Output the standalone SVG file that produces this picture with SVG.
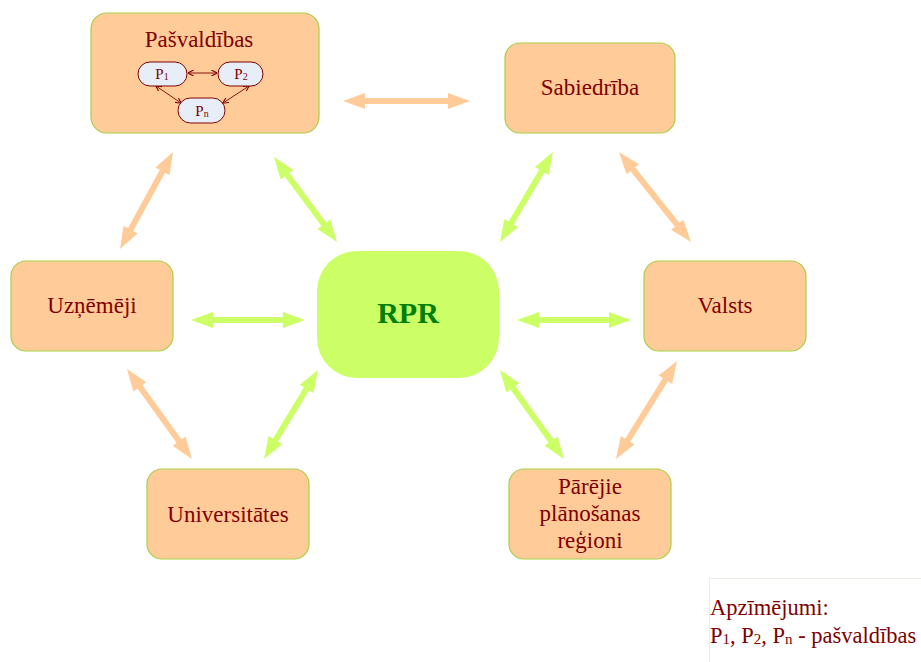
<svg xmlns="http://www.w3.org/2000/svg" width="921" height="662" viewBox="0 0 921 662">
  <style>
    .node { fill: #FFCC99; stroke: #A8CF45; stroke-width: 1.2; }
    .hub { fill: #CCFF66; stroke: none; }
    .lbl { font-family: "Liberation Serif", "Times New Roman", serif; font-size: 23px; fill: #800000; text-anchor: middle; }
    .hubtxt { font-family: "Liberation Serif", "Times New Roman", serif; font-size: 30px; font-weight: bold; fill: #008000; text-anchor: middle; }
    .pill { fill: #E8EEF8; stroke: #800000; stroke-width: 1; }
    .ptxt { font-family: "Liberation Serif", "Times New Roman", serif; font-size: 15px; fill: #800000; text-anchor: middle; }
    .plink { stroke: #800000; stroke-width: 0.9; fill: none; marker-start: url(#tip); marker-end: url(#tip); }
    .orange { fill: #FFCC99; }
    .green { fill: #CCFF66; }
    .legend { font-family: "Liberation Serif", "Times New Roman", serif; font-size: 22.5px; fill: #800000; }
  </style>
  <defs>
    <marker id="tip" viewBox="0 0 8 8" refX="7.5" refY="4" markerWidth="6" markerHeight="6" markerUnits="userSpaceOnUse" orient="auto-start-reverse">
      <path d="M0,0 L8,4 L0,8" fill="none" stroke="#800000" stroke-width="1.4"/>
    </marker>
  </defs>

  <rect width="921" height="662" fill="#FFFFFF"/>

  <!-- legend frame -->
  <rect x="709.5" y="578.5" width="230" height="100" fill="none" stroke="#EDEDE4" stroke-width="1"/>

  <!-- connectors: double-headed block arrows, drawn from (0,0) to (L,0) then placed -->
  <g id="connectors">
    <path class="orange" transform="translate(343 101)" d="M0,0 L22,-8 L22,-3 L105,-3 L105,-8 L127,0 L105,8 L105,3 L22,3 L22,8 Z"/>
    <path class="green" transform="translate(191 320)" d="M0,0 L22,-8 L22,-3 L92,-3 L92,-8 L114,0 L92,8 L92,3 L22,3 L22,8 Z"/>
    <path class="green" transform="translate(517 320)" d="M0,0 L22,-8 L22,-3 L92,-3 L92,-8 L114,0 L92,8 L92,3 L22,3 L22,8 Z"/>
    <path class="orange" transform="translate(173 152) rotate(118.65)" d="M0,0 L22,-8 L22,-3 L88.5,-3 L88.5,-8 L110.5,0 L88.5,8 L88.5,3 L22,3 L22,8 Z"/>
    <path class="green" transform="translate(274 157) rotate(53.46)" d="M0,0 L22,-8 L22,-3 L83.8,-3 L83.8,-8 L105.8,0 L83.8,8 L83.8,3 L22,3 L22,8 Z"/>
    <path class="green" transform="translate(553 152) rotate(120.5)" d="M0,0 L22,-8 L22,-3 L82.4,-3 L82.4,-8 L104.4,0 L82.4,8 L82.4,3 L22,3 L22,8 Z"/>
    <path class="orange" transform="translate(619 152) rotate(51.34)" d="M0,0 L22,-8 L22,-3 L93.3,-3 L93.3,-8 L115.3,0 L93.3,8 L93.3,3 L22,3 L22,8 Z"/>
    <path class="orange" transform="translate(127 369) rotate(54.16)" d="M0,0 L22,-8 L22,-3 L89,-3 L89,-8 L111,0 L89,8 L89,3 L22,3 L22,8 Z"/>
    <path class="green" transform="translate(318 370) rotate(121.25)" d="M0,0 L22,-8 L22,-3 L82.1,-3 L82.1,-8 L104.1,0 L82.1,8 L82.1,3 L22,3 L22,8 Z"/>
    <path class="green" transform="translate(500 370) rotate(54.28)" d="M0,0 L22,-8 L22,-3 L87.6,-3 L87.6,-8 L109.6,0 L87.6,8 L87.6,3 L22,3 L22,8 Z"/>
    <path class="orange" transform="translate(677 361) rotate(121.9)" d="M0,0 L22,-8 L22,-3 L93.4,-3 L93.4,-8 L115.4,0 L93.4,8 L93.4,3 L22,3 L22,8 Z"/>
  </g>

  <!-- municipalities, with the inner P1/P2/Pn network -->
  <g id="node-pasvaldibas">
    <rect class="node" x="91" y="13" width="228" height="120" rx="16"/>
    <text class="lbl" x="199" y="47">Pašvaldības</text>
    <g id="inner-links">
      <line class="plink" x1="188" y1="73" x2="217" y2="73"/>
      <line class="plink" x1="156" y1="86" x2="181" y2="103"/>
      <line class="plink" x1="249" y1="86" x2="223" y2="103"/>
    </g>
    <g id="node-p1">
      <rect class="pill" x="138" y="62" width="49" height="24" rx="12"/>
      <text class="ptxt" x="162" y="79">P<tspan font-size="10" dy="1">1</tspan></text>
    </g>
    <g id="node-p2">
      <rect class="pill" x="218" y="62" width="45" height="24" rx="12"/>
      <text class="ptxt" x="241" y="79">P<tspan font-size="10" dy="1">2</tspan></text>
    </g>
    <g id="node-pn">
      <rect class="pill" x="178" y="98" width="47" height="25" rx="12.5"/>
      <text class="ptxt" x="202" y="116">P<tspan font-size="10" dy="1">n</tspan></text>
    </g>
  </g>

  <g id="node-sabiedriba">
    <rect class="node" x="505" y="43" width="170" height="90" rx="15"/>
    <text class="lbl" x="590" y="95">Sabiedrība</text>
  </g>

  <g id="node-uznemeji">
    <rect class="node" x="11" y="261" width="162" height="90" rx="15"/>
    <text class="lbl" x="92" y="313">Uzņēmēji</text>
  </g>

  <g id="node-rpr">
    <rect class="hub" x="317" y="251" width="182" height="127" rx="40"/>
    <text class="hubtxt" x="408" y="323">RPR</text>
  </g>

  <g id="node-valsts">
    <rect class="node" x="644" y="261" width="162" height="90" rx="15"/>
    <text class="lbl" x="725" y="313">Valsts</text>
  </g>

  <g id="node-universitates">
    <rect class="node" x="147" y="469" width="162" height="90" rx="15"/>
    <text class="lbl" x="228" y="522">Universitātes</text>
  </g>

  <g id="node-parejie">
    <rect class="node" x="509" y="469" width="162" height="90" rx="15"/>
    <text class="lbl" x="590" y="494">Pārējie</text>
    <text class="lbl" x="590" y="521">plānošanas</text>
    <text class="lbl" x="590" y="548">reģioni</text>
  </g>

  <g id="legend">
    <text class="legend" x="710" y="615">Apzīmējumi:</text>
    <text class="legend" x="710" y="643">P<tspan font-size="15" dy="1">1</tspan><tspan dy="-1">, P</tspan><tspan font-size="15" dy="1">2</tspan><tspan dy="-1">, P</tspan><tspan font-size="15" dy="1">n</tspan><tspan dy="-1"> - pašvaldības</tspan></text>
  </g>
</svg>
